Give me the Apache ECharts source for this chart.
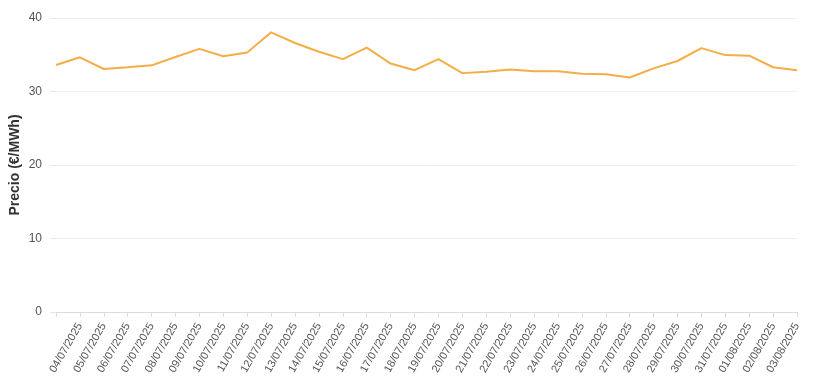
<!DOCTYPE html>
<html>
<head>
<meta charset="utf-8">
<script src="https://cdn.jsdelivr.net/npm/echarts@6/dist/echarts.min.js"></script>
<style>html,body{margin:0;padding:0;background:#fff}#c{width:813px;height:382px}</style>
</head>
<body>
<div id="c"></div>
<script>
var dates = ['', '04/07/2025','05/07/2025','06/07/2025','07/07/2025','08/07/2025','09/07/2025','10/07/2025','11/07/2025','12/07/2025','13/07/2025','14/07/2025','15/07/2025','16/07/2025','17/07/2025','18/07/2025','19/07/2025','20/07/2025','21/07/2025','22/07/2025','23/07/2025','24/07/2025','25/07/2025','26/07/2025','27/07/2025','28/07/2025','29/07/2025','30/07/2025','31/07/2025','01/08/2025','02/08/2025','03/08/2025'];
var prices = [33.6, 34.65, 33.06, 33.3, 33.56, 34.7, 35.8, 34.8, 35.3, 38.05, 36.6, 35.4, 34.4, 35.96, 33.8, 32.9, 34.4, 32.5, 32.7, 33.0, 32.75, 32.75, 32.4, 32.35, 31.9, 33.15, 34.15, 35.9, 34.95, 34.88, 33.3, 32.9];
var yTicks = [0, 10, 20, 30, 40];
var yName = 'Precio (€/MWh)';

var chart = echarts.init(document.getElementById('c'), null, {renderer: 'canvas'});
chart.setOption({
  animation: false,
  grid: {left: 56, right: 16, top: 18, bottom: 70, containLabel: false, outerBoundsMode: 'none'},
  xAxis: {
    type: 'category',
    data: dates,
    boundaryGap: false,
    axisLine: {show: true, lineStyle: {color: '#dcdcdc', width: 1}},
    axisTick: {show: true, length: 5, lineStyle: {color: '#dcdcdc'}, alignWithLabel: true},
    axisLabel: {
      rotate: 60, interval: 0, margin: 12, fontSize: 11, color: '#555',
      fontFamily: 'Liberation Sans, Arial, sans-serif',
      align: 'right', verticalAlign: 'middle'
    },
    splitLine: {show: false}
  },
  yAxis: {
    type: 'value',
    min: yTicks[0], max: yTicks[yTicks.length - 1], interval: 10,
    name: yName,
    nameLocation: 'middle',
    nameGap: 34,
    nameMoveOverlap: false,
    nameRotate: 90,
    nameTextStyle: {fontSize: 14, fontWeight: 'bold', color: '#333', fontFamily: 'Liberation Sans, Arial, sans-serif'},
    axisLine: {show: false},
    axisTick: {show: true, length: 6, lineStyle: {color: '#e6e6e6'}},
    axisLabel: {margin: 14, fontSize: 12, color: '#555', fontFamily: 'Liberation Sans, Arial, sans-serif'},
    splitLine: {show: true, lineStyle: {color: '#efefef', width: 1}}
  },
  series: [{
    type: 'line',
    data: prices,
    showSymbol: false,
    symbol: 'none',
    lineStyle: {color: '#f5ad47', width: 2},
    itemStyle: {color: '#f5ad47'}
  }]
});
</script>
</body>
</html>
